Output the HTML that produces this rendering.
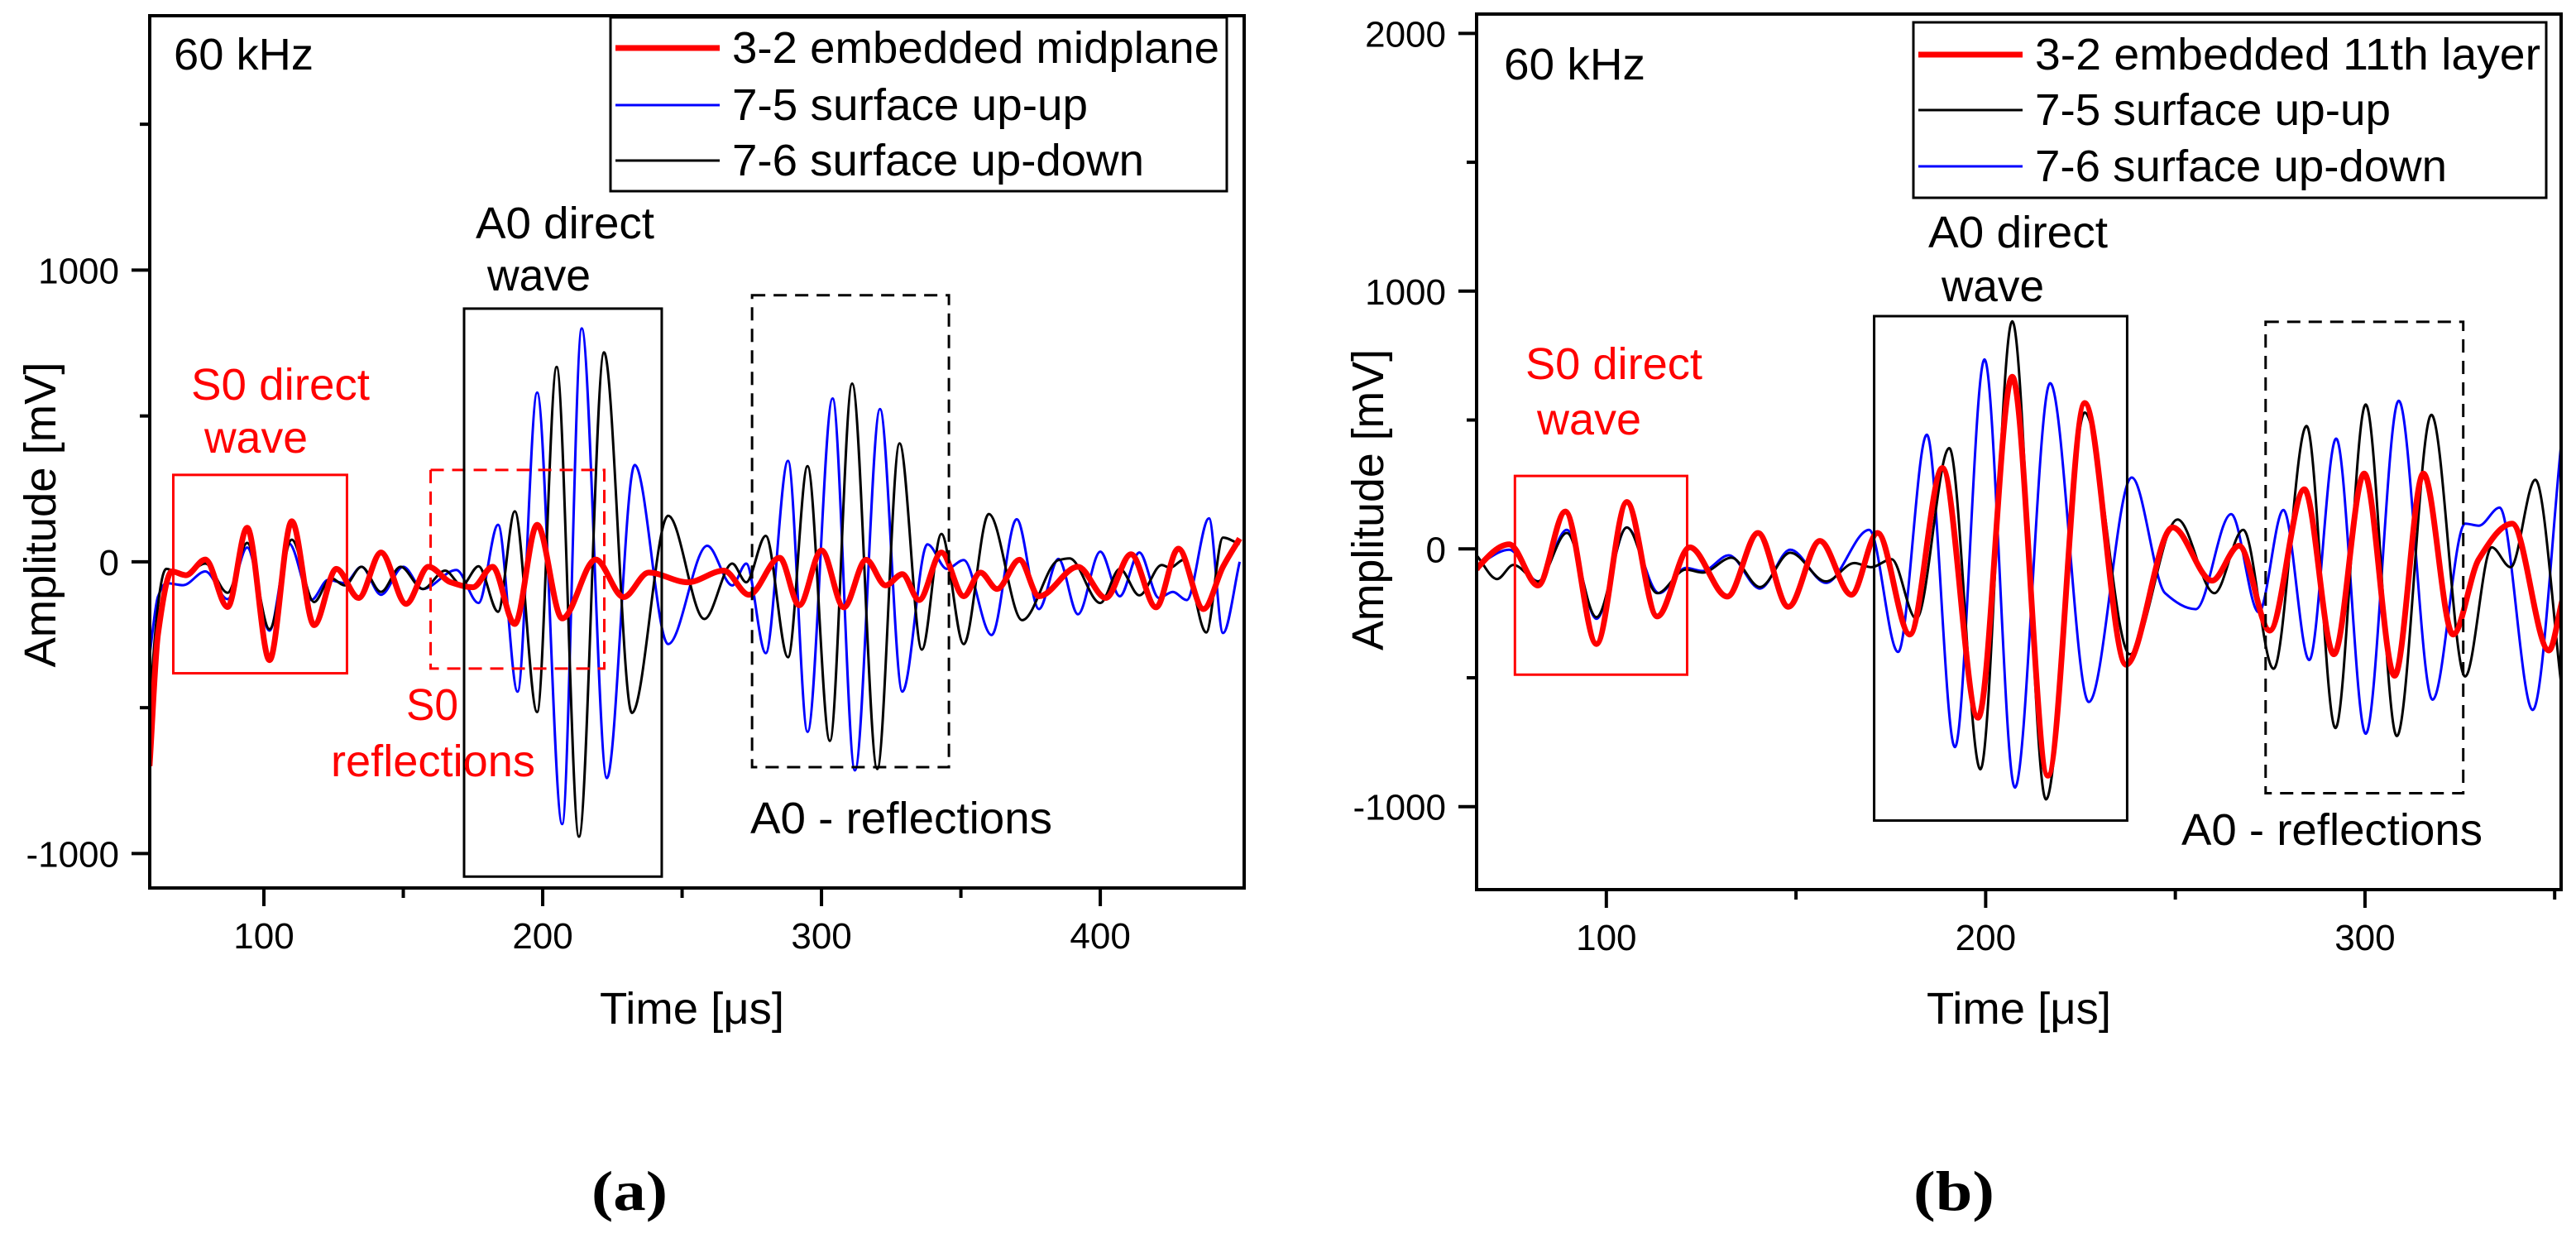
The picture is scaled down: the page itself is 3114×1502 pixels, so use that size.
<!DOCTYPE html>
<html><head><meta charset="utf-8"><style>
html,body{margin:0;padding:0;background:#fff;}
svg{display:block;font-family:"Liberation Sans",sans-serif;}
</style></head><body>
<svg id="fig" width="3114" height="1502" viewBox="0 0 3114 1502" xmlns="http://www.w3.org/2000/svg">
<rect x="0" y="0" width="3114" height="1502" fill="#fff"/>
<defs>
<clipPath id="clipA"><rect x="181" y="19" width="1323" height="1054"/></clipPath>
<clipPath id="clipB"><rect x="1785" y="17" width="1311" height="1058"/></clipPath>
</defs>
<g id="panelA"></g>
<g id="panelB"></g>
</svg>
<script>
// ---------- Panel (a) data: extrema ----------
const aXTicks = [100, 200, 300, 400];
const aXMinor = [150, 250, 350];
const aYTicks = [-1000, 0, 1000];
const aYMinor = [-500, 500, 1500];
const aRedT = [59,62,67,72,79,87,94,102,110,118,126,134,142,151,159,167,175,182,190,198,207,219,229,238,252,265,274,285,292,300,308,316,323,329,335,343,351,357,363,371,378,392,402,411,420,428,437,444,450];
const aRedV = [-700,-250,-33,-46,8,-155,117,-337,139,-217,-24,-124,32,-144,-17,-70,-87,-17,-213,127,-194,8,-121,-37,-70,-30,-113,14,-149,39,-156,7,-81,-42,-131,32,-118,-37,-93,7,-118,-17,-124,26,-156,45,-162,-17,80];
const aBlueT = [59,62,65,71,79,87,94,102,109,117,123,129,135,142,150,157,169,177,184,191,198,207,214,223,233,245,259,268,273,280,288,295,304,312,321,329,338,345,351,361,370,378,385,392,400,407,414,421,426,431,439,444,450];
const aBlueV = [-320,-120,-73,-80,-33,-128,49,-236,63,-131,-62,-73,-17,-113,-17,-93,-28,-141,127,-445,580,-899,800,-741,332,-282,55,-81,-6,-313,346,-583,560,-715,524,-445,60,-24,6,-251,146,-162,10,-180,35,-118,32,-124,-103,-131,149,-244,0];
const aBlackT = [59,60,65,71,79,87,94,102,110,118,124,129,135,142,149,157,165,171,177,184,190,198,205,213,222,232,245,258,268,273,280,288,295,303,311,320,328,336,343,351,360,372,385,389,400,407,414,422,425,430,438,444,450];
const aBlackV = [-700,-370,-24,-49,-6,-106,65,-231,76,-138,-56,-81,-17,-103,-17,-93,-30,-81,-15,-171,173,-515,668,-942,718,-518,158,-196,-6,-70,89,-327,328,-614,611,-710,406,-301,96,-282,164,-200,6,12,-141,-24,-115,-11,-20,7,-242,83,60];

// ---------- Panel (b) data ----------
const bXTicks = [100, 200, 300];
const bXMinor = [150, 250, 350];
const bYTicks = [-1000, 0, 1000, 2000];
const bYMinor = [-500, 500, 1500];
const bRedT = [65.8,66.2,74.4,82,89.2,97.4,105.4,113.4,122,131.9,140,148,156.3,164.6,171.5,180,188.6,198,207,216.4,226.1,237,249.3,259.7,266.8,274.9,284,291.8,299.8,307.8,315.4,323.2,330,338.8,348.5,352];
const bRedV = [-80,-71,18,-142,145,-369,182,-262,6,-185,62,-225,31,-178,62,-332,314,-655,668,-880,566,-449,83,-123,12,-317,231,-409,292,-492,292,-332,-40,98,-394,-200];
const bBlackT = [65.8,71.2,75.5,82,89.6,97.4,105.4,113.4,121,125.4,133,140.5,148.5,157.9,165.4,169.8,175.2,181.7,190.4,198.6,207,215.9,226.1,238,250.6,260.3,267.9,275.9,284.6,292.2,300.2,308.4,317.5,326.4,333.4,338.4,344.9,352];
const bBlackV = [-25,-117,-62,-126,62,-265,83,-172,-80,-92,-34,-148,-15,-126,-55,-71,-40,-271,391,-855,883,-972,529,-409,114,-172,74,-465,477,-695,560,-726,520,-495,6,-71,268,-560];
const bBlueT = [65.8,74.4,82,89.6,97.4,105.4,113.9,121,125.4,132.3,140.5,148.5,157.9,169.3,176.9,184.5,191.9,199.7,207.7,217,227.2,238.5,247.3,255.4,264.7,272,278.5,285.3,292.4,300.2,308.9,317.8,326.4,330,335.5,344.2,352];
const bBlueV = [-65,-3,-126,74,-271,83,-172,-74,-86,-25,-154,-3,-132,74,-400,443,-769,735,-926,643,-594,277,-172,-234,135,-246,151,-431,428,-717,575,-585,98,90,160,-625,450];

const NS = "http://www.w3.org/2000/svg";
function mk(parent, tag, attrs, text) {
  const e = document.createElementNS(NS, tag);
  for (const k in attrs) e.setAttribute(k, attrs[k]);
  if (text !== undefined) e.textContent = text;
  parent.appendChild(e);
  return e;
}
function scaleLin(d0, d1, r0, r1) { return v => r0 + (v - d0) * (r1 - r0) / (d1 - d0); }

// monotone cubic path through points (smooth extrema)
function monoPath(xs, ys) {
  const n = xs.length, d = [], m = [];
  for (let i = 0; i < n - 1; i++) d.push((ys[i+1]-ys[i])/(xs[i+1]-xs[i]));
  m[0] = d[0]; m[n-1] = d[n-2];
  for (let i = 1; i < n - 1; i++) {
    if (d[i-1] * d[i] <= 0) m[i] = 0;
    else { const w1 = 2*(xs[i+1]-xs[i]) + (xs[i]-xs[i-1]), w2 = (xs[i+1]-xs[i]) + 2*(xs[i]-xs[i-1]);
      m[i] = (w1 + w2) / (w1 / d[i-1] + w2 / d[i]); }
  }
  let p = "M" + xs[0].toFixed(1) + "," + ys[0].toFixed(1);
  for (let i = 0; i < n - 1; i++) {
    const h = (xs[i+1]-xs[i]) / 3;
    p += " C" + (xs[i]+h).toFixed(1) + "," + (ys[i]+m[i]*h).toFixed(1) + " " + (xs[i+1]-h).toFixed(1) + "," + (ys[i+1]-m[i+1]*h).toFixed(1) + " " + xs[i+1].toFixed(1) + "," + ys[i+1].toFixed(1);
  }
  return p;
}

function drawPanel(g, L, xt, xm, yt, ym, series, legend, ann) {
  const X = scaleLin(L.t0, L.t1, L.x0, L.x1);
  const Y = scaleLin(L.v0, L.v1, L.y0, L.y1);
  const cg = mk(g, "g", {"clip-path": "url(#" + L.clip + ")"});
  
  
  // annotation boxes
  ann.boxes.forEach(b => {
    const r = mk(g, "rect", {x: X(b.t0), y: Y(b.v1), width: X(b.t1) - X(b.t0), height: Y(b.v0) - Y(b.v1), fill: "none", stroke: b.c, "stroke-width": 3, "stroke-dasharray": b.dash ? "16,10" : "none"});
    
    
  });
  // series
  series.forEach(s => {
    const xs = s.t.map(X), ys = s.v.map(Y);
    const p = mk(cg, "path", {d: monoPath(xs, ys), fill: "none", stroke: s.c, "stroke-width": s.w, "stroke-linejoin": "round"});
    
    
  });
  // frame
  const fr = mk(g, "rect", {x: L.x0, y: L.y1, width: L.x1 - L.x0, height: L.y0 - L.y1, fill: "none", stroke: "#000", "stroke-width": 4});
  
  
  // x ticks
  xt.forEach(t => {
    const l = mk(g, "line", {x1: X(t), x2: X(t), y1: L.y0, y2: L.y0 + 22, stroke: "#000", "stroke-width": 4});
    
    
    const tx = mk(g, "text", {x: X(t), y: L.y0 + 73, "font-size": 44, "text-anchor": "middle"}, String(t));
    
    
  });
  xm.forEach(t => {
    if (X(t) > L.x1 + 2) return;
    const l = mk(g, "line", {x1: X(t), x2: X(t), y1: L.y0, y2: L.y0 + 12, stroke: "#000", "stroke-width": 4});
    
    
  });
  yt.forEach(v => {
    const l = mk(g, "line", {x1: L.x0 - 22, x2: L.x0, y1: Y(v), y2: Y(v), stroke: "#000", "stroke-width": 4});
    
    
    const tx = mk(g, "text", {x: L.x0 - 37, y: Y(v) + 16, "font-size": 44, "text-anchor": "end"}, String(v));
    
    
  });
  ym.forEach(v => {
    const l = mk(g, "line", {x1: L.x0 - 12, x2: L.x0, y1: Y(v), y2: Y(v), stroke: "#000", "stroke-width": 4});
    
    
  });
  // axis titles
  const yl = mk(g, "text", {x: 0, y: 0, "font-size": 54, "text-anchor": "middle", transform: "translate(" + L.ylx + "," + L.yly + ") rotate(-90)", textLength: L.yll, lengthAdjust: "spacingAndGlyphs"}, "Amplitude [mV]");
  
  
  const xl = mk(g, "text", {x: L.xlx, y: 1237, "font-size": 54, textLength: 223, lengthAdjust: "spacingAndGlyphs"}, "Time [\u03bcs]");
  
  
  // legend
  const lg = mk(g, "g", {});
  
  
  mk(lg, "rect", {x: legend.x, y: legend.y, width: legend.w, height: legend.h, fill: "#fff", stroke: "#000", "stroke-width": 3});
  legend.items.forEach((it, i) => {
    const by = legend.base[i];
    const ln = mk(lg, "line", {x1: legend.lx0, x2: legend.lx1, y1: by - 18, y2: by - 18, stroke: it.c, "stroke-width": it.w});
    
    
    const tx = mk(lg, "text", {x: legend.tx, y: by, "font-size": 54, textLength: it.len, lengthAdjust: "spacingAndGlyphs"}, it.label);
    
    
  });
  // text annotations
  ann.texts.forEach(a => {
    const tx = mk(g, "text", {x: a.x, y: a.y, "font-size": a.fs || 54, fill: a.c, textLength: a.len, lengthAdjust: "spacingAndGlyphs", "font-family": a.ff || "Liberation Sans, sans-serif", "font-weight": a.fw || "normal"}, a.s);
    
    
  });
}

drawPanel(document.getElementById("panelA"),
  {t0: 59.05, t1: 451.6, x0: 181, x1: 1504, v0: -1118, v1: 1872, y0: 1073, y1: 19, clip: "clipA", ylx: 67, yly: 622, yll: 369, xlx: 725},
  aXTicks, aXMinor, aYTicks, aYMinor,
  [{t: aBlueT, v: aBlueV, c: "#0000ff", w: 3, name: "series-7-5-surface-up-up"},
   {t: aBlackT, v: aBlackV, c: "#000", w: 3, name: "series-7-6-surface-up-down"},
   {t: aRedT, v: aRedV, c: "#ff0000", w: 7, name: "series-3-2-embedded-midplane"}],
  {x: 738, y: 21, w: 745, h: 210, lx0: 744, lx1: 870, tx: 885, base: [76, 145, 212],
   items: [{label: "3-2 embedded midplane", c: "#ff0000", w: 7, len: 589},
           {label: "7-5 surface up-up", c: "#0000ff", w: 3, len: 430},
           {label: "7-6 surface up-down", c: "#000", w: 3, len: 498}]},
  {boxes: [{t0: 67.5, t1: 129.8, v0: -382, v1: 298, c: "#ff0000", name: "s0-direct-box"},
           {t0: 159.8, t1: 222.1, v0: -366, v1: 315, c: "#ff0000", dash: true, name: "s0-reflections-box"},
           {t0: 171.8, t1: 242.7, v0: -1079, v1: 868, c: "#000", name: "a0-direct-box"},
           {t0: 275.1, t1: 345.7, v0: -704, v1: 914, c: "#000", dash: true, name: "a0-reflections-box"}],
   texts: [{s: "60 kHz", x: 210, y: 84, c: "#000", len: 169, name: "frequency-label"},
           {s: "A0 direct", x: 575, y: 288, c: "#000", len: 216, name: "a0-direct-label"},
           {s: "wave", x: 589, y: 351, c: "#000", len: 125, name: "a0-direct-label-2"},
           {s: "S0 direct", x: 231, y: 483, c: "#ff0000", len: 216, name: "s0-direct-label"},
           {s: "wave", x: 247, y: 547, c: "#ff0000", len: 125, name: "s0-direct-label-2"},
           {s: "S0", x: 491, y: 870, c: "#ff0000", len: 63, name: "s0-reflections-label"},
           {s: "reflections", x: 400, y: 938, c: "#ff0000", len: 247, name: "s0-reflections-label-2"},
           {s: "A0 - reflections", x: 907, y: 1007, c: "#000", len: 365, name: "a0-reflections-label"},
           {s: "(a)", x: 715, y: 1462, c: "#000", len: 92, fs: 68, ff: "Liberation Serif, serif", fw: "bold", name: "panel-a-caption"}]});

drawPanel(document.getElementById("panelB"),
  {t0: 65.8, t1: 351.7, x0: 1785, x1: 3096, v0: -1322, v1: 2075, y0: 1075, y1: 17, clip: "clipB", ylx: 1672, yly: 604, yll: 364, xlx: 2329},
  bXTicks, bXMinor, bYTicks, bYMinor,
  [{t: bBlueT, v: bBlueV, c: "#0000ff", w: 3, name: "series-7-6-surface-up-down"},
   {t: bBlackT, v: bBlackV, c: "#000", w: 3, name: "series-7-5-surface-up-up"},
   {t: bRedT, v: bRedV, c: "#ff0000", w: 7, name: "series-3-2-embedded-11th-layer"}],
  {x: 2313, y: 27, w: 765, h: 212, lx0: 2319, lx1: 2445, tx: 2460, base: [84, 151, 219],
   items: [{label: "3-2 embedded 11th layer", c: "#ff0000", w: 7, len: 611},
           {label: "7-5 surface up-up", c: "#000", w: 3, len: 430},
           {label: "7-6 surface up-down", c: "#0000ff", w: 3, len: 498}]},
  {boxes: [{t0: 75.9, t1: 121.3, v0: -488, v1: 283, c: "#ff0000", name: "s0-direct-box"},
           {t0: 170.6, t1: 237.3, v0: -1054, v1: 903, c: "#000", name: "a0-direct-box"},
           {t0: 273.8, t1: 325.9, v0: -948, v1: 881, c: "#000", dash: true, name: "a0-reflections-box"}],
   texts: [{s: "60 kHz", x: 1818, y: 96, c: "#000", len: 171, name: "frequency-label"},
           {s: "A0 direct", x: 2331, y: 299, c: "#000", len: 217, name: "a0-direct-label"},
           {s: "wave", x: 2347, y: 364, c: "#000", len: 124, name: "a0-direct-label-2"},
           {s: "S0 direct", x: 1844, y: 458, c: "#ff0000", len: 214, name: "s0-direct-label"},
           {s: "wave", x: 1858, y: 525, c: "#ff0000", len: 126, name: "s0-direct-label-2"},
           {s: "A0 - reflections", x: 2637, y: 1021, c: "#000", len: 364, name: "a0-reflections-label"},
           {s: "(b)", x: 2313, y: 1462, c: "#000", len: 98, fs: 68, ff: "Liberation Serif, serif", fw: "bold", name: "panel-b-caption"}]});
</script>
</body></html>
